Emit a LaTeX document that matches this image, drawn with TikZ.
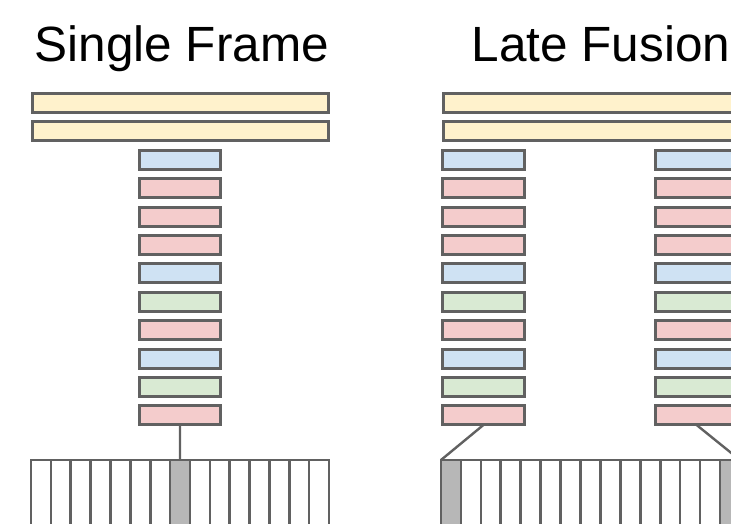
\documentclass[tikz,border=0pt]{standalone}
\usepackage{fontspec}
\setmainfont{Liberation Sans}
\definecolor{yel}{HTML}{FFF2CC}
\definecolor{blu}{HTML}{CFE2F3}
\definecolor{red}{HTML}{F4CCCC}
\definecolor{grn}{HTML}{D9EAD3}
\definecolor{gry}{HTML}{B7B7B7}
\definecolor{strk}{HTML}{616161}
\begin{document}
\begin{tikzpicture}[x=1pt,y=-1pt,
  layer/.style={draw=strk, line width=3pt, minimum width=81.5pt, minimum height=19pt, inner sep=0pt, outer sep=0pt},
  fc/.style={draw=strk, line width=3pt, minimum height=19pt, inner sep=0pt, outer sep=0pt, fill=yel},
  frame/.style={draw=strk, line width=2.6pt, minimum height=100pt, inner sep=0pt, outer sep=0pt, anchor=north west},
  conn/.style={draw=strk, line width=2.4pt},
  title/.style={font=\fontsize{49.5}{52}\selectfont, anchor=base west, inner sep=0pt, text=black}]
\clip (0,0) rectangle (731,524);
\fill[white] (0,0) rectangle (731,524);
% titles
\node[title] (t1) at (34.4,61.5) {Single Frame};
\node[title] (t2) at (471.4,61.5) {Late Fusion};
% yellow bars
\foreach \k in {0,1}{
  \node[fc, minimum width=296pt] (Y\k) at (180.5,{103+28.4*\k}) {};
  \node[fc, minimum width=294pt] (Z\k) at (590,{103+28.4*\k}) {};
}
% conv layers
\foreach \c [count=\k from 2] in {blu,red,red,red,blu,grn,red,blu,grn,red}{
  \node[layer, fill=\c] (A\k) at (180,{103+28.4*\k}) {};
  \node[layer, fill=\c] (B\k) at (483.5,{103+28.4*\k}) {};
  \node[layer, fill=\c] (C\k) at (696.5,{103+28.4*\k}) {};
}
% frames
\foreach \i in {0,...,14}{
  \node[frame, minimum width=19.87pt] (F\i) at ({31+19.87*\i},460) {};
  \node[frame, minimum width=19.93pt] (G\i) at ({441+19.93*\i},460) {};
}
\node[frame, minimum width=19.87pt, fill=gry] (F7) at ({31+19.87*7},460) {};
\node[frame, minimum width=19.93pt, fill=gry] (G0) at (441,460) {};
\node[frame, minimum width=19.93pt, fill=gry] (G14) at ({441+19.93*14},460) {};
% connectors
\draw[conn] (A11.south) -- (F7.north);
\draw[conn] (B11.south) -- (G0.north west);
\draw[conn] (C11.south) -- (G14.north east);
\end{tikzpicture}
\end{document}
